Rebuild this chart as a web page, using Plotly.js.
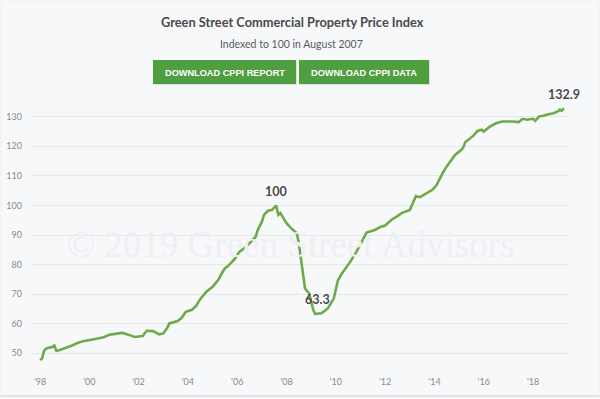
<!DOCTYPE html>
<html>
<head>
<meta charset="utf-8">
<script src="https://cdn.plot.ly/plotly-3.0.1.min.js"></script>
<style>
html,body{margin:0;padding:0;background:#f7f8fa;}
#chart{width:600px;height:399px;}
</style>
</head>
<body>
<div id="chart"></div>
<script>
// ---- data ----
var dates = ["1998-01","1998-02","1998-03","1998-04","1998-06","1998-07","1998-08","1998-09","1998-11",
"1999-02","1999-05","1999-07","1999-10","2000-02","2000-06","2000-08","2000-11","2001-02","2001-05","2001-08","2001-11",
"2002-03","2002-05","2002-08","2002-11","2003-01","2003-03","2003-04","2003-06","2003-08","2003-10","2003-12",
"2004-03","2004-05","2004-07","2004-10","2005-01","2005-04","2005-05","2005-07","2005-09","2005-12",
"2006-02","2006-05","2006-07","2006-10","2006-11","2007-01","2007-02","2007-04","2007-06","2007-08","2007-09","2007-10","2007-12",
"2008-01","2008-03","2008-06","2008-07","2008-08","2008-09","2008-10","2008-12",
"2009-02","2009-03","2009-06","2009-09","2009-12","2010-02","2010-04","2010-08","2010-11",
"2011-02","2011-04","2011-08","2011-11","2012-01","2012-04","2012-07","2012-09","2013-01","2013-02","2013-04","2013-06","2013-09","2013-12",
"2014-02","2014-04","2014-05","2014-07","2014-09","2014-11","2015-01","2015-03","2015-04","2015-06","2015-08","2015-10","2015-12",
"2016-01","2016-04","2016-07","2016-10","2017-03","2017-06","2017-08","2017-10","2018-01","2018-02","2018-04","2018-06","2018-09","2018-11",
"2019-01","2019-02","2019-03","2019-04"];
var cppi = [47.7,48.2,50.8,51.6,52.0,52.1,52.6,50.8,51.2,
51.9,52.7,53.4,54.1,54.6,55.0,55.4,56.3,56.7,56.9,56.3,55.5,
55.8,57.6,57.5,56.4,56.7,58.6,60.1,60.6,60.9,62.0,64.0,
64.7,66.0,68.3,70.8,72.5,75.0,76.4,78.7,79.8,82.1,
84.3,85.8,87.2,89.4,91.7,94.5,96.8,98.2,98.5,100.0,96.8,97.4,95.1,
94.0,92.5,90.6,87.2,82.1,75.3,71.9,70.2,
64.6,63.3,63.5,65.1,68.5,74.7,77.0,80.9,84.3,
88.3,90.8,91.7,92.8,93.2,95.1,96.4,97.4,98.5,100.2,103.2,102.8,104.1,105.3,
106.9,109.8,110.9,113.2,115.2,117.1,118.2,119.4,121.4,122.4,123.6,125.2,125.6,
125.0,126.7,127.8,128.4,128.4,128.2,129.3,129.0,129.3,128.6,130.1,130.3,130.9,131.2,
131.8,132.4,132.0,132.9];
var tickYears = ["1998","2000","2002","2004","2006","2008","2010","2012","2014","2016","2018"];
var tickLabels = ["'98","'00","'02","'04","'06","'08","'10","'12","'14","'16","'18"];
var yTicks = [50,60,70,80,90,100,110,120,130];
var callouts = [{x:"2007-08", y:100, t:"100"},{x:"2009-04", y:63.3, t:"63.3"},{x:"2019-04", y:132.9, t:"132.9"}];
var titleText = "Green Street Commercial Property Price Index";
var subtitleText = "Indexed to 100 in August 2007";
var buttonLabels = ["DOWNLOAD CPPI REPORT","DOWNLOAD CPPI DATA"];
var watermark = "\u00a9 2019 Green Street Advisors";

// ---- layout helpers (pixel -> paper) ----
var W=600,H=399,L=32,R=31,T=99,B=28;
var pw=W-L-R, ph=H-T-B;
function px(x){return (x-L)/pw;}
function py(y){return (H-B-y)/ph;}

var btns=[[153,296],[299,429]];
var shapes=[];
var annotations=[];
btns.forEach(function(b,i){
  shapes.push({type:"rect",xref:"paper",yref:"paper",x0:px(b[0]+1),x1:px(b[1]+1),y0:py(61),y1:py(85),
    fillcolor:"rgba(0,0,0,0.10)",line:{width:0},layer:"above"});
  shapes.push({type:"rect",xref:"paper",yref:"paper",x0:px(b[0]),x1:px(b[1]),y0:py(60),y1:py(84),
    fillcolor:"#4f9e40",line:{width:0},layer:"above"});
  annotations.push({xref:"paper",yref:"paper",x:px((b[0]+b[1])/2),y:py(72.5),text:"<b>"+buttonLabels[i]+"</b>",
    showarrow:false,xanchor:"center",yanchor:"middle",font:{family:"Liberation Sans Narrow, Arial Narrow, sans-serif",size:9.2,color:"#ffffff"}});
});
shapes.push({type:"line",xref:"paper",yref:"paper",x0:px(0),x1:px(600),y0:py(396),y1:py(396),line:{color:"#d4d6d9",width:1.5}});
shapes.push({type:"rect",xref:"paper",yref:"paper",x0:px(1),x1:px(599),y0:py(397),y1:py(2),line:{color:"#eef0f2",width:1}});

annotations.push({xref:"paper",yref:"paper",x:px(292),y:py(22),text:"<b>"+titleText+"</b>",showarrow:false,
  xanchor:"center",yanchor:"middle",font:{family:"Lato, sans-serif",size:12.8,color:"#4a4a4a"}});
annotations.push({xref:"paper",yref:"paper",x:px(291),y:py(44),text:subtitleText,showarrow:false,
  xanchor:"center",yanchor:"middle",font:{family:"Lato, sans-serif",size:10.5,color:"#5a5a5a"}});
annotations.push({xref:"paper",yref:"paper",x:px(290),y:py(244),text:watermark,showarrow:false,
  xanchor:"center",yanchor:"middle",font:{family:"Liberation Serif, serif",size:37,color:"#eeeff2"}});
callouts.forEach(function(c){
  annotations.push({x:c.x+"-01",y:c.y,text:"<b>"+c.t+"</b>",showarrow:false,yshift:14,xanchor:"center",
    font:{family:"Lato, sans-serif",size:12.5,color:"#4a4a4a"}});
});

var trace={x:dates.map(function(d){return d+"-01";}),y:cppi,type:"scatter",mode:"lines",
  line:{color:"#6cab48",width:2.6,shape:"linear"},hoverinfo:"skip"};

var layout={
  width:W,height:H,margin:{l:L,r:R,t:T,b:B},
  paper_bgcolor:"#f7f8fa",plot_bgcolor:"#f7f8fa",showlegend:false,
  xaxis:{type:"date",range:["1997-09-04","2019-06-17"],tickvals:tickYears.map(function(y){return y+"-01-01";}),
    ticktext:tickLabels,showgrid:false,zeroline:false,showline:false,ticks:"",ticklabelstandoff:4,
    tickfont:{family:"Lato, sans-serif",size:9,color:"#8a8a8a"}},
  yaxis:{range:[44,136],tickvals:yTicks,showgrid:true,gridcolor:"#e6e7ea",gridwidth:1,zeroline:false,showline:false,
    ticks:"",ticklabelstandoff:9,tickfont:{family:"Lato, sans-serif",size:9,color:"#8a8a8a"}},
  shapes:shapes,annotations:annotations
};
Plotly.newPlot("chart",[trace],layout,{staticPlot:true,displayModeBar:false});
</script>
</body>
</html>
